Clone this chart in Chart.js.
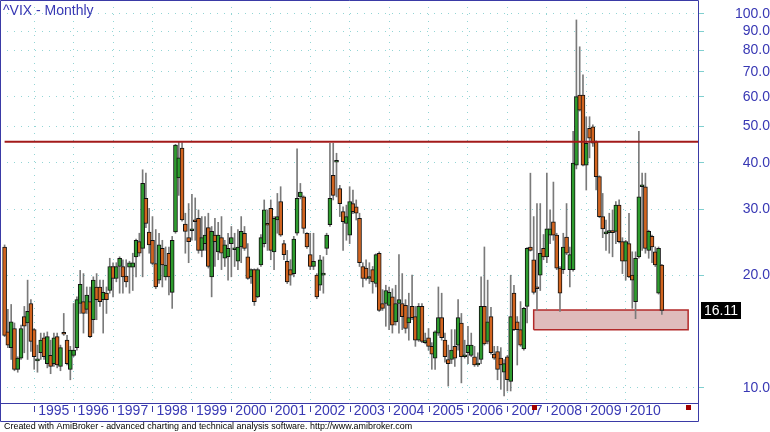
<!DOCTYPE html>
<html>
<head>
<meta charset="utf-8">
<title>^VIX - Monthly</title>
<script src="https://cdn.jsdelivr.net/npm/chart.js@4.4.0/dist/chart.umd.min.js"></script>
<style>
  html, body { margin: 0; padding: 0; background: #fff; }
  canvas { display: block; }
</style>
</head>
<body>
<canvas id="chart-vix" width="770" height="432"></canvas>
<script>
/**
 * ^VIX monthly candles, AmiBroker style.
 */
(function () {
  'use strict';

  // first bar is April 1994, one bar per month
  var FIRST_YEAR = 1994;
  var FIRST_MONTH = 4;

  var OPEN = [
    23.8, 14.1, 12.8, 14.4, 11.2, 12.0, 15.5, 14.9, 16.8, 14.3,
    11.8, 12.4, 13.6, 11.6, 12.2, 11.6, 13.7, 11.4, 14.0, 13.4,
    11.2, 12.2, 12.8, 16.8, 17.0, 16.2, 17.0, 15.2, 18.6, 18.6,
    17.2, 17.9, 18.2, 21.1, 19.6, 21.1, 21.1, 19.9, 21.0, 21.0,
    22.4, 24.6, 23.6, 32.1, 26.1, 24.8, 21.5, 19.4, 23.6, 19.8,
    22.9, 18.0, 26.1, 36.4, 43.8, 27.4, 25.2, 26.3, 28.1, 28.4,
    23.3, 24.3, 26.8, 19.8, 25.6, 23.1, 25.2, 22.2, 22.4, 24.3,
    23.4, 21.8, 23.8, 25.9, 22.4, 19.8, 20.7, 17.5, 21.3, 24.3,
    27.4, 30.2, 23.1, 28.1, 31.5, 24.3, 21.8, 20.7, 20.2, 25.9,
    32.4, 32.4, 25.9, 22.7, 21.1, 20.0, 18.8, 20.0, 23.6, 27.3,
    37.0, 40.1, 34.1, 29.6, 27.5, 25.6, 31.1, 30.5, 28.4, 21.1,
    20.9, 19.6, 20.7, 19.0, 22.9, 16.8, 16.8, 16.6, 17.5, 15.0,
    16.8, 16.8, 16.6, 14.9, 16.5, 15.5, 13.4, 16.5, 13.2, 13.6,
    12.9, 12.0, 14.0, 15.4, 13.4, 11.9, 11.9, 12.9, 13.0, 14.9,
    12.1, 12.4, 12.2, 12.1, 11.5, 11.9, 16.5, 13.3, 15.5, 12.3,
    12.5, 12.0, 11.0, 12.1, 10.4, 17.9, 15.0, 14.3, 12.7, 16.5,
    23.8, 22.0, 18.6, 20.0, 23.6, 22.4, 25.6, 27.8, 25.6, 20.9,
    20.7, 25.3, 20.7, 20.7, 39.4, 60.7, 60.7, 39.4, 49.4, 49.9,
    45.5, 36.7, 28.7, 25.8, 26.0, 26.2, 26.2, 30.8, 24.6, 21.8,
    24.3, 20.0, 17.0, 22.4, 34.5, 34.5, 23.3, 25.4, 23.1, 17.9,
    21.3
  ];

  var HIGH = [
    24.1, 16.2, 16.7, 14.9, 12.1, 14.7, 16.5, 19.4, 17.2, 14.4,
    13.0, 14.0, 14.0, 14.1, 13.4, 14.0, 14.0, 13.0, 15.8, 13.8,
    12.9, 16.8, 17.5, 20.6, 20.2, 18.6, 18.6, 19.8, 20.2, 19.4,
    19.4, 18.6, 22.2, 21.6, 21.6, 22.4, 22.0, 22.0, 21.8, 22.9,
    25.0, 25.9, 38.3, 37.5, 30.2, 28.7, 26.5, 25.9, 24.8, 23.8,
    23.8, 25.4, 44.8, 45.4, 45.3, 29.3, 31.1, 32.9, 32.2, 29.9,
    28.7, 28.7, 29.3, 27.0, 28.4, 27.7, 28.7, 24.8, 25.9, 27.0,
    25.9, 26.5, 28.7, 27.0, 24.3, 20.8, 20.8, 20.9, 25.7, 31.8,
    29.9, 31.8, 28.7, 33.1, 34.5, 24.8, 23.3, 22.0, 25.4, 43.6,
    35.2, 32.6, 26.0, 25.9, 25.9, 20.2, 22.6, 22.4, 25.9, 45.1,
    45.1, 42.4, 34.8, 30.5, 30.8, 34.5, 33.8, 31.8, 29.3, 21.6,
    22.0, 21.6, 21.1, 22.8, 23.1, 18.3, 18.8, 18.6, 18.4, 18.8,
    22.7, 20.2, 17.2, 17.9, 20.0, 16.5, 16.8, 16.8, 14.0, 14.4,
    13.2, 14.2, 18.6, 17.9, 14.0, 13.0, 14.3, 14.3, 17.2, 15.8,
    13.4, 14.6, 14.0, 12.9, 12.4, 19.8, 23.8, 19.4, 16.4, 12.9,
    12.9, 12.8, 11.9, 12.2, 20.0, 18.8, 15.5, 17.0, 16.4, 23.7,
    37.5, 28.7, 31.1, 31.1, 25.7, 37.5, 29.9, 35.5, 25.9, 21.1,
    25.9, 31.1, 23.8, 48.5, 96.4, 81.7, 68.7, 53.1, 53.1, 50.5,
    45.8, 36.9, 33.1, 28.1, 29.3, 29.9, 31.5, 31.8, 25.2, 24.8,
    29.3, 23.1, 23.1, 48.5, 37.5, 37.5, 26.4, 25.6, 23.8, 23.8,
    21.4
  ];

  var LOW = [
    13.7, 12.8, 11.9, 11.1, 11.0, 11.9, 12.4, 11.9, 12.5, 11.2,
    11.0, 11.9, 11.9, 11.3, 10.9, 11.4, 11.3, 11.1, 13.8, 11.5,
    10.5, 12.1, 12.6, 15.8, 14.0, 15.8, 13.6, 14.0, 15.2, 16.5,
    14.0, 15.8, 17.9, 17.5, 19.2, 17.9, 17.9, 18.6, 17.9, 18.2,
    19.8, 22.5, 19.8, 26.8, 22.9, 21.3, 18.4, 19.0, 18.6, 19.4,
    17.7, 16.3, 25.9, 32.7, 27.9, 22.9, 21.6, 24.8, 24.8, 22.9,
    22.4, 23.3, 20.9, 17.5, 21.1, 22.0, 20.7, 21.1, 19.4, 19.8,
    21.1, 20.7, 21.6, 23.3, 19.5, 19.0, 16.6, 17.4, 21.1, 23.8,
    23.3, 22.0, 20.7, 25.9, 25.4, 22.0, 19.0, 18.8, 19.8, 25.6,
    32.0, 25.9, 23.6, 20.7, 20.7, 17.3, 18.2, 17.9, 22.7, 27.0,
    31.8, 32.4, 28.7, 23.3, 24.8, 24.3, 29.2, 28.1, 21.1, 18.6,
    19.4, 19.0, 17.9, 18.6, 16.0, 16.1, 14.6, 14.3, 14.0, 14.7,
    14.0, 14.3, 14.0, 13.4, 15.2, 12.9, 13.3, 13.2, 13.1, 12.6,
    11.2, 11.2, 13.8, 13.4, 11.7, 10.1, 11.6, 11.4, 12.6, 10.3,
    12.0, 11.6, 12.1, 11.4, 11.4, 11.6, 13.0, 13.1, 12.3, 11.9,
    10.5, 9.9, 9.5, 9.8, 9.8, 14.2, 11.5, 12.9, 12.6, 14.9,
    23.2, 17.8, 16.1, 18.2, 22.0, 21.6, 24.3, 24.8, 20.7, 16.0,
    20.2, 22.7, 18.6, 20.5, 38.5, 55.0, 39.2, 33.8, 41.2, 44.2,
    33.8, 28.5, 25.2, 23.3, 22.9, 22.4, 24.3, 24.4, 20.2, 19.4,
    19.7, 16.3, 15.3, 22.2, 23.3, 22.9, 22.2, 21.6, 21.1, 17.8,
    15.7
  ];

  var CLOSE = [
    13.8, 13.0, 15.0, 11.2, 12.0, 14.4, 14.6, 16.0, 13.3, 12.1,
    11.9, 13.4, 12.1, 13.7, 11.4, 13.6, 11.5, 12.8, 13.9, 11.6,
    12.6, 12.6, 17.2, 18.9, 15.8, 17.7, 13.7, 19.4, 17.2, 17.0,
    18.0, 17.2, 21.1, 19.6, 21.1, 22.2, 19.8, 19.2, 21.6, 21.6,
    24.8, 22.9, 35.2, 27.5, 24.1, 21.5, 18.6, 24.1, 21.3, 21.3,
    19.8, 24.8, 44.6, 41.2, 28.1, 26.2, 24.6, 26.4, 27.8, 23.3,
    25.2, 25.6, 21.1, 26.2, 24.6, 25.6, 22.9, 24.1, 23.6, 25.2,
    23.5, 23.8, 26.2, 23.6, 19.6, 20.7, 17.0, 20.7, 25.2, 29.9,
    27.2, 23.3, 28.4, 28.7, 25.6, 22.7, 19.2, 20.0, 25.0, 32.1,
    33.4, 26.7, 23.8, 21.1, 21.8, 17.5, 22.0, 20.1, 25.6, 32.1,
    32.7, 40.3, 31.1, 27.8, 28.7, 31.5, 29.6, 29.3, 21.6, 19.6,
    19.6, 19.7, 19.2, 22.7, 16.1, 16.3, 18.2, 18.0, 14.7, 16.8,
    17.2, 15.5, 14.4, 15.4, 15.4, 13.4, 16.5, 13.3, 13.3, 12.9,
    12.3, 14.1, 15.4, 13.6, 12.1, 11.6, 12.6, 12.0, 15.4, 12.1,
    12.2, 13.0, 13.0, 11.5, 11.6, 16.5, 13.1, 15.0, 12.4, 12.0,
    11.2, 11.5, 11.6, 10.5, 15.5, 14.3, 14.3, 13.0, 16.3, 23.6,
    23.3, 18.0, 18.4, 22.9, 22.4, 26.6, 26.6, 25.6, 20.9, 17.9,
    23.8, 22.9, 22.7, 39.9, 60.1, 55.3, 39.4, 45.1, 46.5, 45.1,
    36.7, 28.7, 26.6, 25.9, 26.1, 26.0, 30.8, 24.6, 21.8, 24.6,
    19.8, 19.4, 22.2, 32.4, 34.7, 23.6, 26.2, 23.8, 21.3, 23.6,
    16.11
  ];

  var YEAR_LABELS = [
    '1995', '1996', '1997', '1998', '1999', '2000', '2001', '2002',
    '2003', '2004', '2005', '2006', '2007', '2008', '2009', '2010'
  ];

  var PRICE_TICKS = [10, 20, 30, 40, 50, 60, 70, 80, 90, 100];

  var RESISTANCE = 45.5;

  // support box, in bar index / price
  var ZONE_FROM = 161;
  var ZONE_TO = 208;
  var ZONE_LOW = 14.3;
  var ZONE_HIGH = 16.15;

  var TITLE = '^VIX - Monthly';
  var FOOTER = 'Created with AmiBroker - advanced charting and technical analysis software. http://www.amibroker.com';

  var BLUE = '#3838b4';
  var FRAME = '#3a3aa6';
  var GRID = '#93d5d5';
  var UP = '#2e9c2e';
  var DOWN = '#d2641f';
  var FONT = 'Arial, "Liberation Sans", sans-serif';

  /* ---- data for the library ---- */
  var index = OPEN.map(function (_, i) { return i; });

  var wicks = index.map(function (i) { return { x: i, y: [LOW[i], HIGH[i]] }; });
  var bodies = index.map(function (i) { return { x: i, y: [OPEN[i], CLOSE[i]] }; });
  var bodyColors = index.map(function (i) { return CLOSE[i] >= OPEN[i] ? UP : DOWN; });

  var yearTicks = YEAR_LABELS.map(function (y) {
    return (parseInt(y, 10) - FIRST_YEAR) * 12 + (1 - FIRST_MONTH);
  });

  var zone = [
    { x: ZONE_FROM, y: ZONE_LOW },
    { x: ZONE_FROM, y: ZONE_HIGH },
    { x: ZONE_TO, y: ZONE_HIGH },
    { x: ZONE_TO, y: ZONE_LOW },
    { x: ZONE_FROM, y: ZONE_LOW },
  ];

  var X_MIN = -1.4;
  var X_MAX = 211;

  // keep the plot flush with the canvas edges
  function noPadding(s) {
    s.paddingTop = 0;
    s.paddingBottom = 0;
    s.paddingLeft = 0;
    s.paddingRight = 0;
  }

  /* ---- frame, title, footer, markers ---- */
  var decorations = {
    id: 'decorations',
    afterDraw: function (chart) {
      var ctx = chart.ctx;
      var area = chart.chartArea;
      var xs = chart.scales.x;
      var ys = chart.scales.y;
      var stripBottom = area.bottom + 18;

      ctx.save();

      // frame around plot and date strip
      ctx.strokeStyle = FRAME;
      ctx.lineWidth = 1;
      ctx.beginPath();
      ctx.rect(0.5, 0.5, Math.round(area.right), Math.round(stripBottom));
      ctx.moveTo(0, Math.round(area.bottom) + 0.5);
      ctx.lineTo(Math.round(area.right) + 0.5, Math.round(area.bottom) + 0.5);
      ctx.stroke();

      // year tick marks
      ctx.beginPath();
      xs.ticks.forEach(function (t) {
        var px = Math.round(xs.getPixelForValue(t.value)) + 0.5;
        ctx.moveTo(px, area.bottom + 3);
        ctx.lineTo(px, area.bottom + 9);
      });
      ctx.stroke();

      // zone edge markers
      ctx.fillStyle = '#a00000';
      [ZONE_FROM, ZONE_TO].forEach(function (v) {
        var px = Math.round(xs.getPixelForValue(v));
        ctx.fillRect(px - 2, area.bottom + 2, 5, 5);
      });

      // last value label
      var last = CLOSE[CLOSE.length - 1];
      var py = Math.round(ys.getPixelForValue(last));
      ctx.fillStyle = '#000';
      ctx.fillRect(area.right + 3, py - 8, 40, 17);
      ctx.fillStyle = '#fff';
      ctx.font = '14px ' + FONT;
      ctx.textAlign = 'center';
      ctx.textBaseline = 'middle';
      ctx.fillText(last.toFixed(2), area.right + 23, py + 1);

      // title
      ctx.fillStyle = BLUE;
      ctx.textAlign = 'left';
      ctx.font = '14px ' + FONT;
      ctx.fillText(TITLE, 3, 11);

      // footer, fitted to the strip width
      ctx.font = '10px ' + FONT;
      var w = ctx.measureText(FOOTER).width;
      var size = Math.min(10, 10 * 409 / w);
      ctx.font = size.toFixed(2) + 'px ' + FONT;
      ctx.fillStyle = '#000';
      ctx.fillText(FOOTER, 4, 427);

      ctx.restore();
    },
  };

  new Chart(document.getElementById('chart-vix'), {
    type: 'bar',
    data: {
      datasets: [
        {
          type: 'line',
          label: 'Zone',
          data: zone,
          borderColor: '#b22a2a',
          borderWidth: 1.5,
          backgroundColor: '#dfbcbc',
          fill: 'shape',
          pointRadius: 0,
          tension: 0,
          order: 5,
        },
        {
          type: 'bar',
          label: 'Range',
          data: wicks,
          barThickness: 1,
          backgroundColor: '#7a7a7a',
          grouped: false,
          order: 3,
        },
        {
          type: 'bar',
          label: 'Body',
          data: bodies,
          barThickness: 4,
          backgroundColor: bodyColors,
          borderColor: '#111',
          borderWidth: 1,
          borderSkipped: false,
          minBarLength: 2,
          grouped: false,
          order: 2,
        },
        {
          type: 'line',
          label: 'Resistance',
          data: [{ x: 0, y: RESISTANCE }, { x: X_MAX, y: RESISTANCE }],
          borderColor: '#a31a1a',
          borderWidth: 2,
          pointRadius: 0,
          fill: false,
          order: 0,
        },
      ],
    },
    options: {
      responsive: false,
      animation: false,
      events: [],
      layout: { padding: 0 },
      plugins: {
        legend: { display: false },
        tooltip: { enabled: false },
        title: { display: false },
      },
      scales: {
        x: {
          type: 'linear',
          min: X_MIN,
          max: X_MAX,
          offset: false,
          afterBuildTicks: function (s) {
            s.ticks = yearTicks.map(function (v) { return { value: v }; });
          },
          afterFit: function (s) {
            s.height = 29;
            noPadding(s);
          },
          grid: { color: GRID, drawTicks: false, offset: false },
          border: { display: false, dash: [1, 6] },
          ticks: {
            autoSkip: false,
            maxRotation: 0,
            align: 'start',
            labelOffset: 4,
            padding: 0,
            color: BLUE,
            font: { family: FONT, size: 14 },
            callback: function (v, i) { return YEAR_LABELS[i]; },
          },
        },
        y: {
          type: 'logarithmic',
          position: 'right',
          min: 9.1,
          max: 109,
          afterBuildTicks: function (s) {
            s.ticks = PRICE_TICKS.map(function (v) { return { value: v }; });
          },
          afterFit: function (s) {
            s.width = 72;
            noPadding(s);
          },
          grid: { color: GRID, tickColor: '#7fcfcf', tickLength: 6 },
          border: { display: false, dash: [1, 6] },
          ticks: {
            crossAlign: 'far',
            padding: 28,
            color: BLUE,
            font: { family: FONT, size: 14 },
            callback: function (v) { return Number(v).toFixed(1); },
          },
        },
      },
    },
    plugins: [decorations],
  });
})();
</script>
</body>
</html>
